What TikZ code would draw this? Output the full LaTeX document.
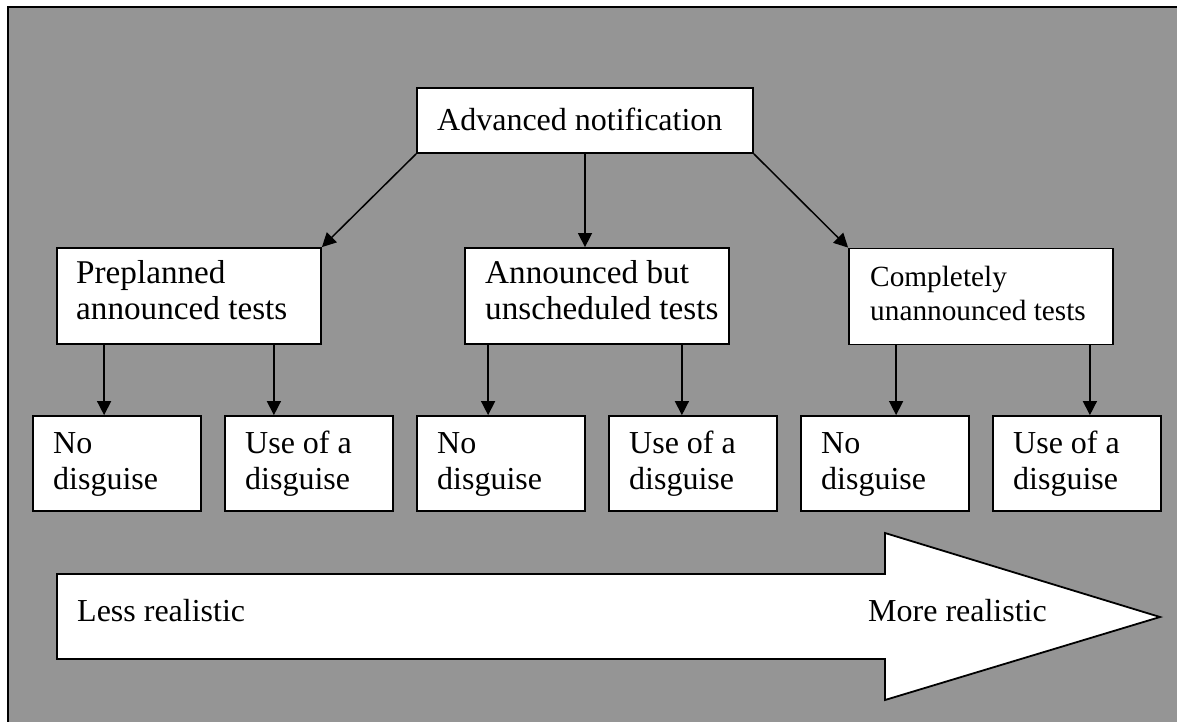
\documentclass[tikz,border=0pt]{standalone}
\usepackage{fontspec}
\setmainfont{Liberation Serif}
\usetikzlibrary{arrows.meta,calc}
\definecolor{panel}{RGB}{149,149,149}
\begin{document}
\begin{tikzpicture}[x=1pt,y=-1pt,
  box/.style={draw=black,line width=1.8pt,fill=white,inner sep=0pt,
              minimum width=#1,anchor=center},
  big/.style={font=\fontsize{32}{36}\selectfont},
  wide/.style={font=\fontsize{33.2}{36}\selectfont},
  small/.style={font=\fontsize{29.3}{33.5}\selectfont},
  lbl/.style={inner sep=0pt,anchor=base west,align=left},
  arr/.style={draw=black,line width=1.5pt,-{Triangle[length=14pt,width=14pt]}}]
\useasboundingbox (0,0) rectangle (1177,721);
\clip (0,0) rectangle (1177,721);
\fill[white] (0,0) rectangle (1177,721);
% grey panel with its frame
\fill[panel] (8,7) rectangle (1200,740);
\draw[line width=2pt] (8,740) -- (8,7) -- (1200,7);

% top level
\node[box=336pt,minimum height=65pt] (adv) at (585,120.5) {};
\node[lbl,big] (advt) at (437,130) {Advanced notification};

% second level
\node[box=264pt,minimum height=96pt] (pre) at (189,296) {};
\node[box=264pt,minimum height=96pt] (ann) at (597,296) {};
\node[box=264pt,minimum height=96pt] (unann) at (981,296.5) {};
\node[lbl,wide] (pret) at (76,283)
  {\begin{tabular}[t]{@{}l@{}}Preplanned\\announced tests\end{tabular}};
\node[lbl,wide] (annt) at (485,283)
  {\begin{tabular}[t]{@{}l@{}}Announced but\\unscheduled tests\end{tabular}};
\node[lbl,small] (unannt) at (870,286.5)
  {\begin{tabular}[t]{@{}l@{}}Completely\\unannounced tests\end{tabular}};

% third level
\foreach \i/\txt in {1/{No\\disguise},2/{Use of a\\disguise},3/{No\\disguise},
                     4/{Use of a\\disguise},5/{No\\disguise},6/{Use of a\\disguise}}{
  \node[box=168pt,minimum height=95pt] (b\i) at ({117+192*(\i-1)},463.5) {};
  \node[lbl,big] (b\i t) at ({53+192*(\i-1)},453)
    {\begin{tabular}[t]{@{}l@{}}\txt\end{tabular}};
}

% connectors
\draw[arr] (adv.south west) -- (pre.north east);
\draw[arr] (adv.south) -- (adv.south |- ann.north);
\draw[arr] (adv.south east) -- (unann.north west);

\draw[arr] ([xshift=48pt]pre.south west) -- ([xshift=48pt]pre.south west |- b1.north);
\draw[arr] ([xshift=-48pt]pre.south east) -- ([xshift=-48pt]pre.south east |- b2.north);
\draw[arr] ([xshift=24pt]ann.south west) -- ([xshift=24pt]ann.south west |- b3.north);
\draw[arr] ([xshift=-48pt]ann.south east) -- ([xshift=-48pt]ann.south east |- b4.north);
\draw[arr] ([xshift=48pt]unann.south west) -- ([xshift=48pt]unann.south west |- b5.north);
\draw[arr] ([xshift=-24pt]unann.south east) -- ([xshift=-24pt]unann.south east |- b6.north);

% realism scale arrow
\draw[line width=1.8pt,fill=white,line join=miter]
  (57,574) -- (885,574) -- (885,533) -- (1160,617) -- (885,700)
  -- (885,659) -- (57,659) -- cycle;
\node[lbl,big] (less) at (77,621) {Less realistic};
\node[lbl,big] (more) at (868,621) {More realistic};
\end{tikzpicture}
\end{document}
